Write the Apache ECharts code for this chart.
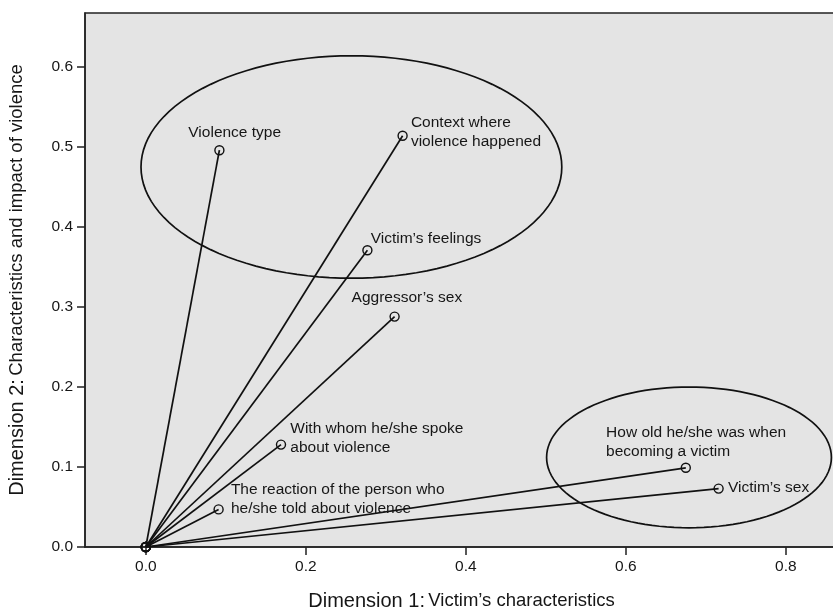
<!DOCTYPE html>
<html>
<head>
<meta charset="utf-8">
<script src="https://cdn.jsdelivr.net/npm/echarts@6/dist/echarts.min.js"></script>
<style>
  html, body { margin: 0; padding: 0; background: #fff; }
  #chart { width: 833px; height: 613px; }
</style>
</head>
<body>
<div id="chart"></div>
<script>
// variables (end points of the vectors from the origin)
var varNames = [
  'Violence type',
  'Context where\nviolence happened',
  'Victim\u2019s feelings',
  'Aggressor\u2019s sex',
  'With whom he/she spoke\nabout violence',
  'The reaction of the person who\nhe/she told about violence',
  'How old he/she was when\nbecoming a victim',
  'Victim\u2019s sex'
];
var dim1 = [0.092, 0.321, 0.277, 0.311, 0.169, 0.091, 0.675, 0.716];
var dim2 = [0.496, 0.514, 0.371, 0.288, 0.128, 0.047, 0.099, 0.073];

// the two groups circled on the chart
var ellipseCx = [0.257, 0.679];
var ellipseCy = [0.475, 0.112];
var ellipseRx = [0.263, 0.178];
var ellipseRy = [0.139, 0.088];

var xTicks = [0, 0.2, 0.4, 0.6, 0.8];
var yTicks = [0, 0.1, 0.2, 0.3, 0.4, 0.5, 0.6];

// label placement: [dx, dy, align] from the point centre
var labelPlace = [
  [16, -17, 'center'],
  [9, -3, 'left'],
  [4, -11, 'left'],
  [13, -18, 'center'],
  [10, -6, 'left'],
  [13, -9, 'left'],
  [-79, -25, 'left'],
  [10, 0, 'left']
];

var font = '"Liberation Sans", Arial, Helvetica, sans-serif';
var ink = '#111';
var textInk = '#161616';
var symSize = 9;

var chart = echarts.init(document.getElementById('chart'));

var series = varNames.map(function (name, i) {
  var p = labelPlace[i];
  return {
    type: 'line',
    name: name,
    symbol: 'circle',
    symbolSize: symSize,
    showAllSymbol: true,
    lineStyle: { color: ink, width: 1.7 },
    itemStyle: { color: 'rgba(0,0,0,0)', borderColor: ink, borderWidth: 1.4 },
    emphasis: { disabled: true },
    animation: false,
    z: 3,
    data: [
      [0, 0],
      {
        value: [dim1[i], dim2[i]],
        label: {
          show: true,
          formatter: name,
          position: [symSize / 2 + p[0], symSize / 2 + p[1]],
          align: p[2],
          verticalAlign: 'middle',
          color: textInk,
          fontFamily: font,
          fontSize: 15.5,
          lineHeight: 19
        }
      }
    ]
  };
});

var ellipseData = ellipseCx.map(function (cx, i) {
  return [cx, ellipseCy[i], ellipseRx[i], ellipseRy[i]];
});

series.push({
  type: 'custom',
  clip: true,
  silent: true,
  animation: false,
  z: 2,
  data: ellipseData,
  renderItem: function (params, api) {
    var c = api.coord([api.value(0), api.value(1)]);
    var s = api.size([api.value(2), api.value(3)]);
    var pts = [];
    for (var k = 0; k < 120; k++) {
      var a = (k / 120) * Math.PI * 2;
      pts.push([c[0] + s[0] * Math.cos(a), c[1] + s[1] * Math.sin(a)]);
    }
    return {
      type: 'polygon',
      shape: { points: pts },
      style: { fill: 'none', stroke: ink, lineWidth: 1.7 }
    };
  }
});

var gridLeft = 85, gridTop = 13, gridRight = -5, gridBottom = 66;
var xMin = -0.076;
var xMax = xMin + (833 - gridLeft - gridRight) / 800;
var yMax = (613 - gridTop - gridBottom) / 800;

var option = {
  backgroundColor: '#fff',
  animation: false,
  grid: {
    left: gridLeft, top: gridTop, right: gridRight, bottom: gridBottom,
    containLabel: false,
    outerBoundsMode: 'none',
    show: true,
    backgroundColor: '#e4e4e4',
    borderColor: '#222',
    borderWidth: 1.5
  },
  xAxis: {
    type: 'value',
    min: xMin,
    max: xMax,
    name: '{a|Dimension 1:} {b|Victim\u2019s characteristics}',
    nameLocation: 'middle',
    nameGap: 44,
    nameTextStyle: {
      rich: {
        a: { fontFamily: font, fontSize: 20, color: textInk },
        b: { fontFamily: font, fontSize: 18.5, color: textInk }
      }
    },
    splitLine: { show: false },
    axisLine: { show: true, onZero: false, lineStyle: { color: '#222', width: 1.5 } },
    axisTick: { show: true, length: 8, customValues: xTicks, lineStyle: { color: '#222', width: 1.5 } },
    axisLabel: {
      customValues: xTicks,
      margin: 12,
      color: textInk,
      fontFamily: font,
      fontSize: 15.5,
      formatter: function (v) { return v.toFixed(1); }
    }
  },
  yAxis: {
    type: 'value',
    min: 0,
    max: yMax,
    name: '{a|Dimension 2:} {b|Characteristics and impact of violence}',
    nameLocation: 'middle',
    nameGap: 58,
    nameTextStyle: {
      rich: {
        a: { fontFamily: font, fontSize: 20, color: textInk },
        b: { fontFamily: font, fontSize: 18.5, color: textInk }
      }
    },
    splitLine: { show: false },
    axisLine: { show: true, onZero: false, lineStyle: { color: '#222', width: 1.5 } },
    axisTick: { show: true, length: 8, customValues: yTicks, lineStyle: { color: '#222', width: 1.5 } },
    axisLabel: {
      customValues: yTicks,
      margin: 12,
      color: textInk,
      fontFamily: font,
      fontSize: 15.5,
      formatter: function (v) { return v.toFixed(1); }
    }
  },
  series: series
};

chart.setOption(option);
window.addEventListener('resize', function () { chart.resize(); });
</script>
</body>
</html>
